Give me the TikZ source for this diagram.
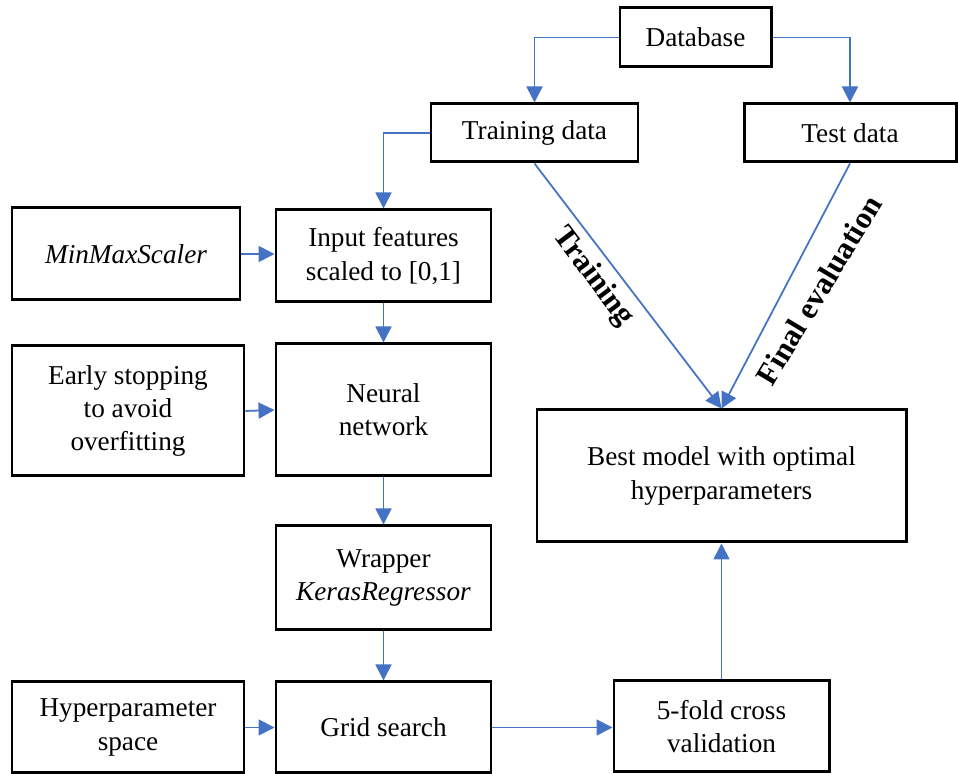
\documentclass[tikz,border=0pt]{standalone}
\usepackage{fontspec}
\setmainfont{Liberation Serif}
\usepackage{tikz}
\usetikzlibrary{arrows.meta}

\definecolor{flowblue}{RGB}{68,114,196}

\begin{document}
\begin{tikzpicture}[
	box/.style={draw, line width=1.7pt, align=center, inner sep=2pt,
		font=\fontsize{15.5}{18.8}\selectfont},
	arr/.style={draw=flowblue, line width=1pt,
		-{Triangle[length=0.32cm,width=0.32cm]}, color=flowblue},
	lbl/.style={font=\fontsize{17.6}{20}\selectfont\bfseries, text=black, inner sep=0pt}
]

\useasboundingbox (0,0) rectangle (19.16,15.48);

\node[box, minimum width=3.02cm, minimum height=1.18cm] (db) at (13.91, 14.73) {Database};
\node[box, minimum width=4.14cm, minimum height=1.16cm] (train) at (10.69, 12.82) {Training data};
\node[box, minimum width=4.24cm, minimum height=1.16cm] (test) at (17.00, 12.82) {Test data};

\node[box, minimum width=4.56cm, minimum height=1.84cm] (minmax) at (2.52, 10.40) {\itshape MinMaxScaler};
\node[box, minimum width=4.30cm, minimum height=1.84cm] (input) at (7.67, 10.36) {Input features\\scaled to [0,1]};

\node[box, minimum width=4.64cm, minimum height=2.60cm] (early) at (2.56, 7.26) {Early stopping\\to avoid\\overfitting};
\node[box, minimum width=4.30cm, minimum height=2.64cm] (nn) at (7.67, 7.28) {Neural\\network};
\node[box, minimum width=7.38cm, minimum height=2.64cm] (best) at (14.43, 5.96) {Best model with optimal\\hyperparameters};

\node[box, minimum width=4.30cm, minimum height=2.08cm] (wrapper) at (7.67, 3.92) {Wrapper\\\textit{KerasRegressor}};

\node[box, minimum width=4.64cm, minimum height=1.82cm] (hyper) at (2.56, 0.93) {Hyperparameter\\space};
\node[box, minimum width=4.30cm, minimum height=1.82cm] (grid) at (7.67, 0.93) {Grid search};
\node[box, minimum width=4.30cm, minimum height=1.82cm] (fold) at (14.43, 0.95) {5-fold cross\\validation};

\draw[arr] (db.west) -| (train.north);
\draw[arr] (db.east) -| (test.north);
\draw[arr] (train.west) -| (input.north);

\draw[arr] (minmax.east) -- (minmax.east -| input.west);
\draw[arr] (early.east) -- (nn.west);
\draw[arr] (hyper.east) -- (grid.west);
\draw[arr] (grid.east) -- (grid.east -| fold.west);
\draw[arr] (fold.north) -- (best.south);

\foreach \a/\b in {input/nn, nn/wrapper, wrapper/grid} {
	\draw[arr] (\a.south) -- (\b.north);
}

\draw[arr] (train.south) -- (best.north);
\draw[arr] (test.south) -- (best.north);

% labels along the two slanted arrows
\node[lbl, rotate=-53] (trainlbl) at (11.86, 9.94) {Training};
\node[lbl, rotate=59] (evallbl) at (16.38, 9.68) {Final evaluation};

\end{tikzpicture}
\end{document}
